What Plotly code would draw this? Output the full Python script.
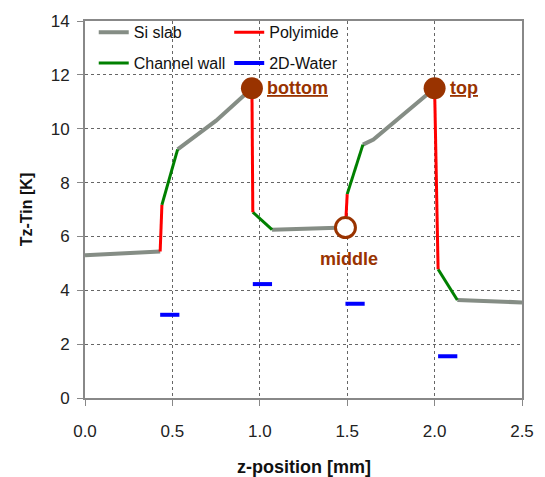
import plotly.graph_objects as go

N = None
si_x = [0.0, 0.43, N, 0.53, 0.75, 0.955, N, 1.07, 1.49, N, 1.59, 1.65, 2.0, N, 2.13, 2.35, 2.5]
si_y = [5.3, 5.44, N, 9.23, 10.3, 11.5, N, 6.25, 6.33, N, 9.41, 9.6, 11.5, N, 3.64, 3.6, 3.55]
pi_x = [0.43, 0.44, N, 0.955, 0.96, N, 1.49, 1.50, N, 2.0, 2.01, 2.02]
pi_y = [5.44, 7.17, N, 11.5, 6.9, N, 6.33, 7.57, N, 11.5, 8.5, 4.78]
cw_x = [0.44, 0.53, N, 0.96, 1.07, N, 1.50, 1.59, N, 2.02, 2.13]
cw_y = [7.17, 9.23, N, 6.9, 6.25, N, 7.57, 9.41, N, 4.78, 3.64]
w_x = [0.43, 0.54, N, 0.96, 1.07, N, 1.49, 1.60, N, 2.02, 2.13]
w_y = [3.09, 3.09, N, 4.23, 4.23, N, 3.5, 3.5, N, 1.55, 1.55]
pt_x = [0.955, 1.49, 2.0]
pt_y = [11.5, 6.33, 11.5]
pt_labels = ["bottom", "middle", "top"]
x_ticks = [0.0, 0.5, 1.0, 1.5, 2.0, 2.5]
x_ticklabels = ["0.0", "0.5", "1.0", "1.5", "2.0", "2.5"]

FONT = "Liberation Sans"
brown = "#993300"
fig = go.Figure()
fig.add_trace(go.Scatter(x=si_x, y=si_y, mode="lines", name="Si slab", legendgroup="a",
                         line=dict(color="#858d85", width=4), legend="legend"))
fig.add_trace(go.Scatter(x=cw_x, y=cw_y, mode="lines", name="Channel wall", legendgroup="b",
                         line=dict(color="#008000", width=3), legend="legend"))
fig.add_trace(go.Scatter(x=pi_x, y=pi_y, mode="lines", name="Polyimide", legendgroup="c",
                         line=dict(color="#ff0000", width=3), legend="legend2"))
fig.add_trace(go.Scatter(x=w_x, y=w_y, mode="lines", name="2D-Water", legendgroup="d",
                         line=dict(color="#0000ff", width=4), legend="legend2"))
fig.add_trace(go.Scatter(x=[pt_x[0], pt_x[2]], y=[pt_y[0], pt_y[2]], mode="markers",
                         marker=dict(size=22, color=brown), showlegend=False))
fig.add_trace(go.Scatter(x=[pt_x[1]], y=[pt_y[1]], mode="markers",
                         marker=dict(size=20, color="white", line=dict(color=brown, width=3)),
                         showlegend=False))

afont = dict(family=FONT, size=18, color=brown)
fig.add_annotation(x=pt_x[0], y=pt_y[0], text="<b><u>" + pt_labels[0] + "</u></b>", showarrow=False,
                   xanchor="left", xshift=13, font=afont)
fig.add_annotation(x=pt_x[2], y=pt_y[2], text="<b><u>" + pt_labels[2] + "</u></b>", showarrow=False,
                   xanchor="left", xshift=13, font=afont)
fig.add_annotation(x=pt_x[1], y=pt_y[1], text="<b>" + pt_labels[1] + "</b>", showarrow=False,
                   yanchor="top", yshift=-19, xshift=4, font=afont)
# x-axis title
fig.add_annotation(x=0.5, y=0, xref="paper", yref="paper", text="<b>z-position [mm]</b>",
                   showarrow=False, yanchor="middle", yshift=-69,
                   font=dict(family=FONT, size=18, color="#111111"))

axcommon = dict(showgrid=True, gridcolor="#666666", griddash="dot", gridwidth=1,
                showline=True, linecolor="#888888", linewidth=2, mirror=True,
                ticks="outside", ticklen=6, tickcolor="#888888", zeroline=False,
                tickfont=dict(family=FONT, size=17, color="#222222"))
fig.update_xaxes(range=[0, 2.5], tickvals=x_ticks, ticktext=x_ticklabels,
                 ticklabelstandoff=11, automargin=False, **axcommon)
fig.update_yaxes(range=[0, 14], dtick=2, ticklabelstandoff=4,
                 title=dict(text="<b>Tz-Tin [K]</b>", standoff=14,
                            font=dict(family=FONT, size=16, color="#111111")),
                 **axcommon)

legfont = dict(family=FONT, size=16, color="#111111")
fig.update_layout(
    width=545, height=477,
    margin=dict(l=85, r=23, t=17, b=79),
    plot_bgcolor="white", paper_bgcolor="white",
    legend=dict(x=0.02, y=1.015, xanchor="left", yanchor="top", bgcolor="rgba(0,0,0,0)",
                font=legfont, tracegroupgap=7, itemwidth=30),
    legend2=dict(x=0.33, y=1.015, xanchor="left", yanchor="top", bgcolor="rgba(0,0,0,0)",
                 font=legfont, tracegroupgap=7, itemwidth=30),
)
fig.write_html("out.html")
